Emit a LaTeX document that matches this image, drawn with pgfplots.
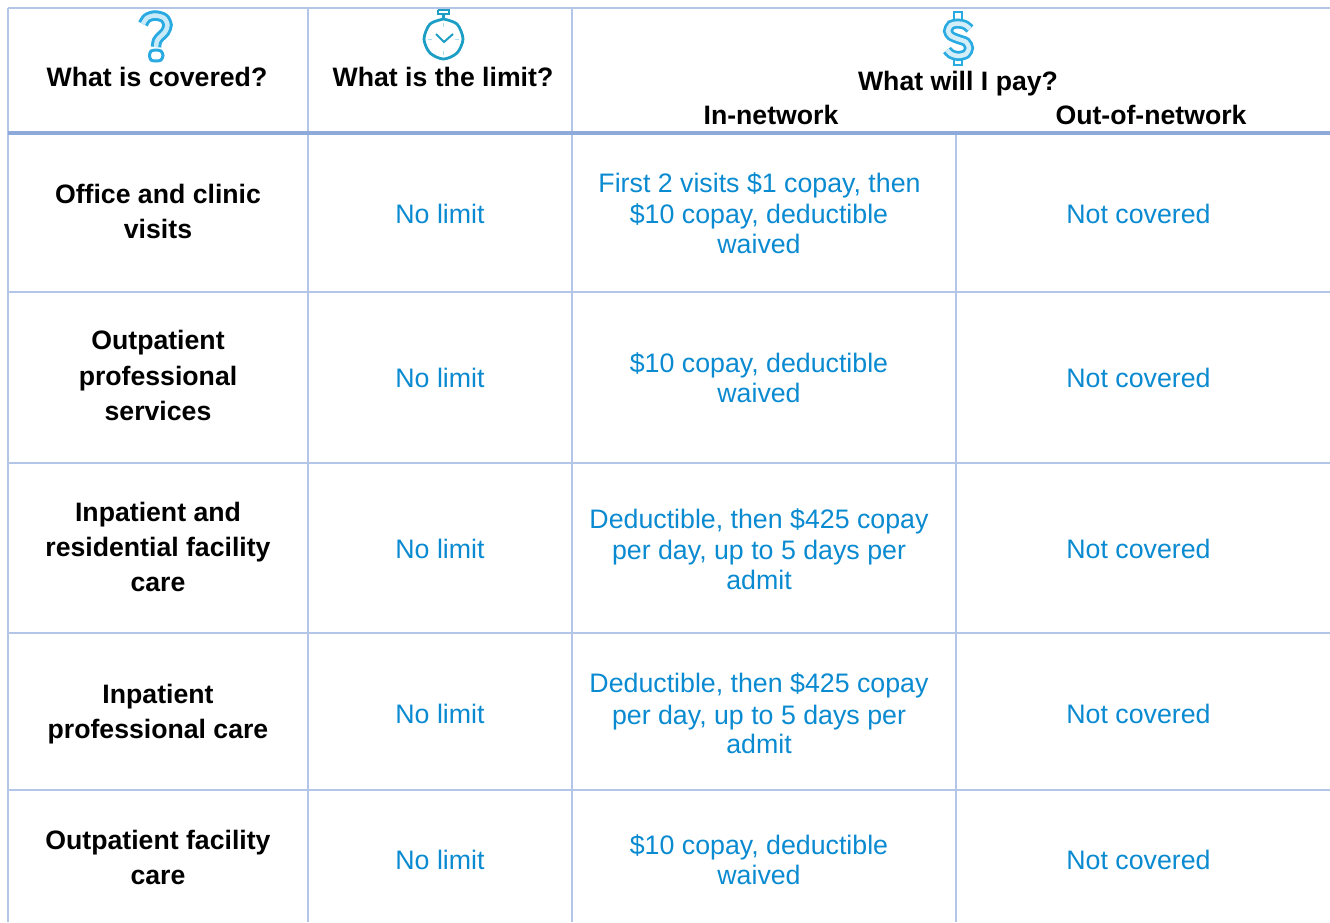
\documentclass[border=0pt]{standalone}
\usepackage{pgfplots}
\pgfplotsset{compat=1.18}
\usepackage{fontspec}
\setmainfont{Liberation Sans}
\definecolor{gridl}{HTML}{B4C6E7}
\definecolor{headl}{HTML}{8EAADB}
\definecolor{bluet}{HTML}{0A8AD0}
\definecolor{icon}{HTML}{29ABE2}
\newcommand{\B}[1]{\fontsize{26.65}{30}\selectfont\bfseries #1}
\newcommand{\T}[1]{\fontsize{26.75}{30}\selectfont\color{bluet} #1}
\begin{document}
\begin{tikzpicture}[x=1pt,y=1pt]
\path (0,0) rectangle (1330,922);
\begin{axis}[
  at={(0,0)}, anchor=south west,
  scale only axis, width=1330pt, height=922pt,
  xmin=0, xmax=1330, ymin=0, ymax=922, y dir=reverse,
  hide axis, clip=true, clip mode=individual,
  every axis plot/.append style={forget plot}
]
% grid
\addplot[gridl, line width=1.6pt] coordinates {(8,8) (1330,8)};
\addplot[gridl, line width=2pt] coordinates {(8,8) (8,922)};
\addplot[gridl, line width=2pt] coordinates {(308,8) (308,922)};
\addplot[gridl, line width=2pt] coordinates {(572,8) (572,922)};
\addplot[gridl, line width=2pt] coordinates {(956,132) (956,922)};
\addplot[gridl, line width=1.6pt] coordinates {(8,292) (1330,292)};
\addplot[gridl, line width=1.6pt] coordinates {(8,463) (1330,463)};
\addplot[gridl, line width=1.6pt] coordinates {(8,633) (1330,633)};
\addplot[gridl, line width=1.6pt] coordinates {(8,790) (1330,790)};
\addplot[headl, line width=4pt] coordinates {(8,132.5) (1330,132.5)};
% question mark icon
\addplot[icon, line width=10.5pt, smooth] coordinates {(143,24) (147,18) (155,15.5) (164,18) (167.5,25) (165,32) (160,37) (157,41) (156,47)};
\addplot[white!75!icon, line width=4.5pt, smooth] coordinates {(143,24) (147,18) (155,15.5) (164,18) (167.5,25) (165,32) (160,37) (157,41) (156,47)};
\addplot[icon, line width=3pt, smooth] coordinates {(156,50) (161,51) (163,55.5) (161,60) (156,61) (151,60) (149.5,55.5) (151,51) (156,50)};
% stopwatch icon
\addplot[icon!70!teal, line width=2.8pt, smooth] coordinates {(443.5,19) (457,24) (463,39) (457,53) (443.5,59) (430,53) (424,39) (430,24) (443.5,19)};
\addplot[icon!70!teal, line width=2.4pt] coordinates {(438,10) (449,10) (449,14) (438,14) (438,10)};
\addplot[icon!70!teal, line width=2.4pt] coordinates {(443.5,14) (443.5,19)};
\addplot[icon!70!teal, line width=2pt] coordinates {(436,34) (444,42) (453,34)};
\addplot[icon!40!white, line width=1pt] coordinates {(443.5,23) (443.5,27)};
\addplot[icon!40!white, line width=1pt] coordinates {(443.5,51) (443.5,55)};
\addplot[icon!40!white, line width=1pt] coordinates {(428,39) (432,39)};
\addplot[icon!40!white, line width=1pt] coordinates {(455,39) (459,39)};
% dollar icon
\addplot[icon, line width=10pt, smooth] coordinates {(970,29) (965,25) (958,23.5) (951,25) (948,31) (951,36) (958,39) (966,42) (969,48) (966,54) (958,56) (951,54) (947,50)};
\addplot[white!80!icon, line width=4.5pt, smooth] coordinates {(970,29) (965,25) (958,23.5) (951,25) (948,31) (951,36) (958,39) (966,42) (969,48) (966,54) (958,56) (951,54) (947,50)};
\addplot[icon, line width=1.8pt] coordinates {(954,20) (954,12) (962,12) (962,20)};
\addplot[icon, line width=1.8pt] coordinates {(954,59) (954,65) (962,65) (962,59)};
% header text
\node[anchor=base] at (axis cs:157,86) {\B{What is covered?}};
\node[anchor=base] at (axis cs:443,86) {\B{What is the limit?}};
\node[anchor=base] at (axis cs:958,90) {\B{What will I pay?}};
\node[anchor=base] at (axis cs:771,124) {\B{In-network}};
\node[anchor=base] at (axis cs:1151,124) {\B{Out-of-network}};
% row heads
\node[anchor=base] at (axis cs:158,203) {\B{Office and clinic}};
\node[anchor=base] at (axis cs:158,238) {\B{visits}};
\node[anchor=base] at (axis cs:158,349) {\B{Outpatient}};
\node[anchor=base] at (axis cs:158,385) {\B{professional}};
\node[anchor=base] at (axis cs:158,420) {\B{services}};
\node[anchor=base] at (axis cs:158,521) {\B{Inpatient and}};
\node[anchor=base] at (axis cs:158,556) {\B{residential facility}};
\node[anchor=base] at (axis cs:158,591) {\B{care}};
\node[anchor=base] at (axis cs:158,703) {\B{Inpatient}};
\node[anchor=base] at (axis cs:158,738) {\B{professional care}};
\node[anchor=base] at (axis cs:158,849) {\B{Outpatient facility}};
\node[anchor=base] at (axis cs:158,884) {\B{care}};
% limits
\node[anchor=base] at (axis cs:440,223) {\T{No limit}};
\node[anchor=base] at (axis cs:440,387) {\T{No limit}};
\node[anchor=base] at (axis cs:440,558) {\T{No limit}};
\node[anchor=base] at (axis cs:440,723) {\T{No limit}};
\node[anchor=base] at (axis cs:440,869) {\T{No limit}};
% in-network
\node[anchor=base] at (axis cs:759.5,192) {\T{First 2 visits \$1 copay, then}};
\node[anchor=base] at (axis cs:759,223) {\T{\$10 copay, deductible}};
\node[anchor=base] at (axis cs:759,253) {\T{waived}};
\node[anchor=base] at (axis cs:759,372) {\T{\$10 copay, deductible}};
\node[anchor=base] at (axis cs:759,402) {\T{waived}};
\node[anchor=base] at (axis cs:759,528) {\T{Deductible, then \$425 copay}};
\node[anchor=base] at (axis cs:759,559) {\T{per day, up to 5 days per}};
\node[anchor=base] at (axis cs:759,589) {\T{admit}};
\node[anchor=base] at (axis cs:759,692) {\T{Deductible, then \$425 copay}};
\node[anchor=base] at (axis cs:759,724) {\T{per day, up to 5 days per}};
\node[anchor=base] at (axis cs:759,753) {\T{admit}};
\node[anchor=base] at (axis cs:759,854) {\T{\$10 copay, deductible}};
\node[anchor=base] at (axis cs:759,884) {\T{waived}};
% out-of-network
\node[anchor=base] at (axis cs:1138.5,223) {\T{Not covered}};
\node[anchor=base] at (axis cs:1138.5,387) {\T{Not covered}};
\node[anchor=base] at (axis cs:1138.5,558) {\T{Not covered}};
\node[anchor=base] at (axis cs:1138.5,723) {\T{Not covered}};
\node[anchor=base] at (axis cs:1138.5,869) {\T{Not covered}};
\end{axis}
\end{tikzpicture}
\end{document}
